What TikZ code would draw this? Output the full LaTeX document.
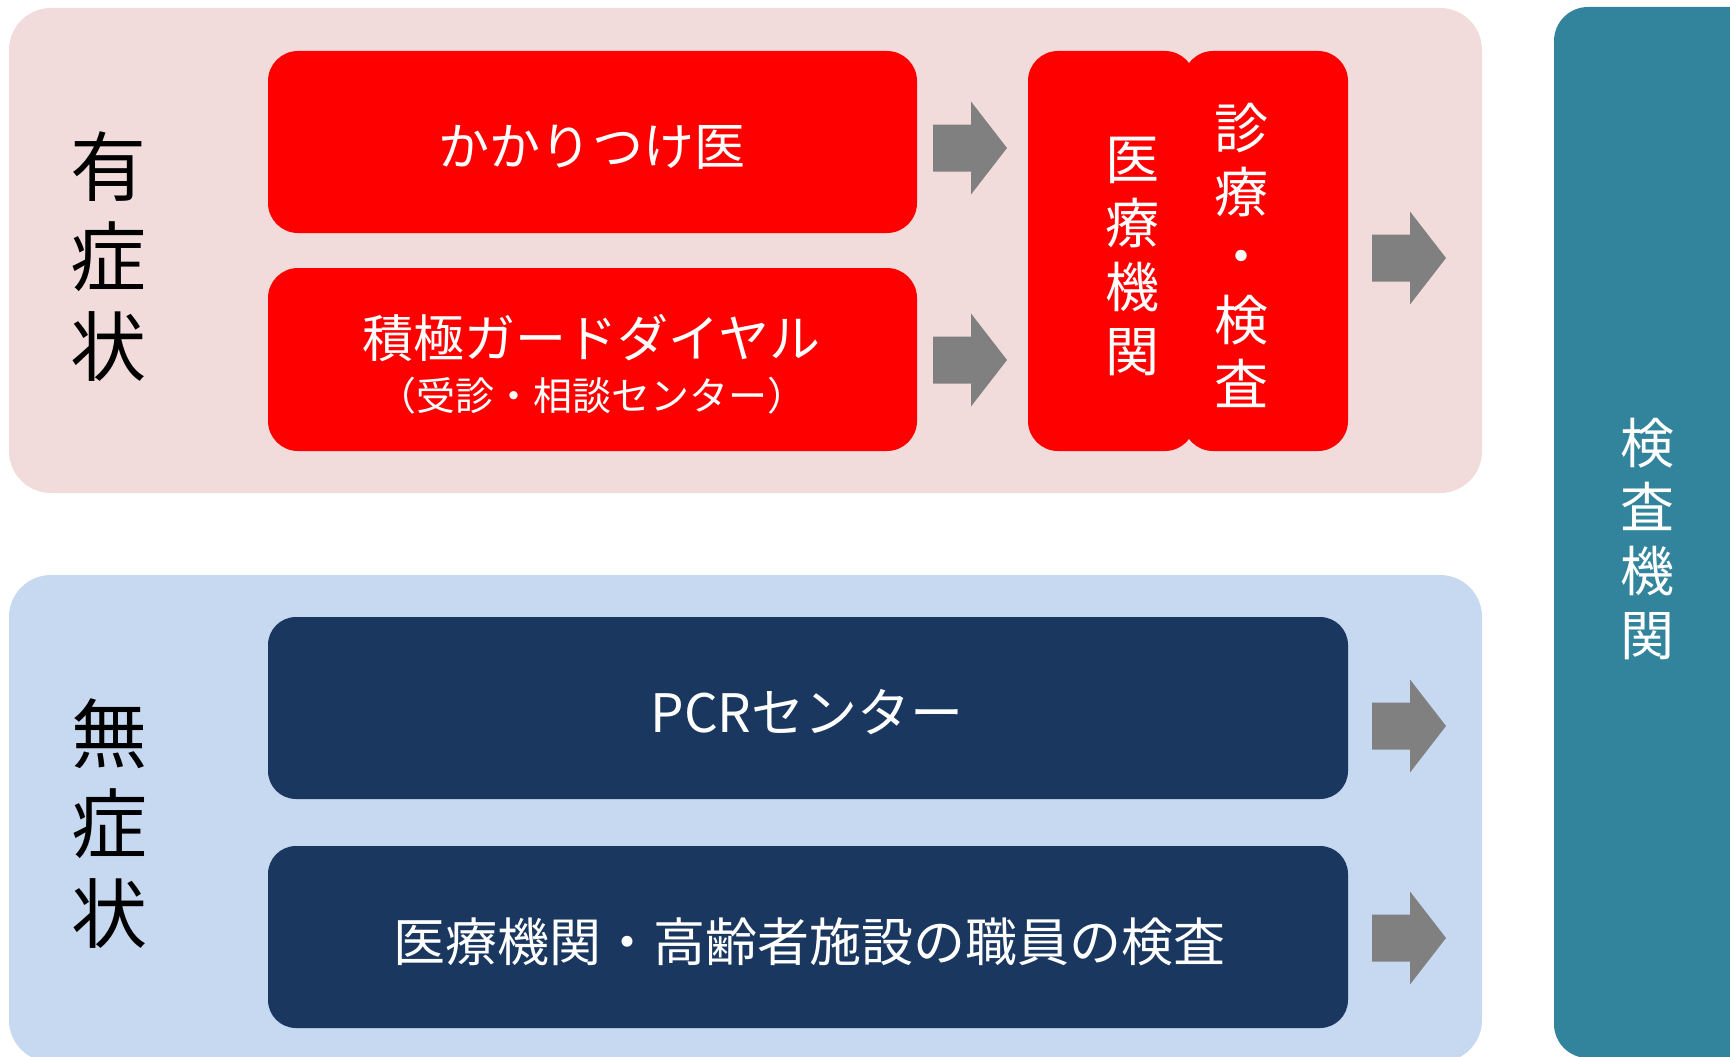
\documentclass[tikz,border=0pt]{standalone}
\usepackage{fontspec}
\setmainfont{Noto Sans CJK JP}
\definecolor{pinkbg}{HTML}{F2DCDB}
\definecolor{bluebg}{HTML}{C6D9F1}
\definecolor{boxred}{HTML}{FF0000}
\definecolor{navybox}{HTML}{1A3760}
\definecolor{tealbox}{HTML}{31849B}
\definecolor{arrowgray}{HTML}{808080}
\begin{document}
\begin{tikzpicture}[x=1pt,y=-1pt,
  panel/.style={rectangle, draw=none, inner sep=0pt, rounded corners=42pt},
  redbox/.style={rectangle, draw=none, inner sep=0pt, rounded corners=30pt, fill=boxred},
  navybox/.style={rectangle, draw=none, inner sep=0pt, rounded corners=28pt, fill=navybox},
  wlabel/.style={text=white, inner sep=0pt, align=center},
  blabel/.style={text=black, inner sep=0pt, align=center},
  blockarr/.pic={\fill[arrowgray] (0,-23.5) -- (38,-23.5) -- (38,-46.5) -- (74,0) -- (38,46.5) -- (38,23.5) -- (0,23.5) -- cycle;}
]
\useasboundingbox (0,0) rectangle (1730,1057);
\clip (0,0) rectangle (1730,1057);
\fill[white] (0,0) rectangle (1730,1057);

% panels
\node[panel, fill=pinkbg, minimum width=1473pt, minimum height=485pt] (sym) at (745.5,250.5) {};
\node[panel, fill=bluebg, minimum width=1473pt, minimum height=487pt] (asym) at (745.5,818.5) {};
\node[panel, fill=tealbox, rounded corners=34pt, minimum width=226pt, minimum height=1051pt] (lab) at (1667,532.5) {};

% side labels
\node[blabel, font=\fontsize{76}{90}\selectfont] (symlabel) at (108,257) {有\\症\\状};
\node[blabel, font=\fontsize{76}{90}\selectfont] (asymlabel) at (109,824) {無\\症\\状};

% red boxes
\node[redbox, minimum width=649pt, minimum height=182pt] (kakari) at (592.5,142) {};
\node[wlabel, font=\fontsize{51}{60}\selectfont] (kakaritext) at (592,147) {かかりつけ医};
\node[redbox, minimum width=649pt, minimum height=183pt] (dial) at (592.5,359.5) {};
\node[wlabel, font=\fontsize{51}{60}\selectfont] (dialtext) at (591.5,338) {積極ガードダイヤル};
\node[wlabel, font=\fontsize{39}{44}\selectfont] (dialsub) at (592,396) {（受診・相談センター）};

% medical institution boxes
\node[redbox, minimum width=165pt, minimum height=400pt] (medright) at (1265.5,251) {};
\node[redbox, minimum width=167pt, minimum height=400pt] (medleft) at (1111.5,251) {};
\node[wlabel, font=\fontsize{54}{64}\selectfont] (medtext) at (1132,256.5) {医\\療\\機\\関};
\node[wlabel, font=\fontsize{54}{64}\selectfont] (exatext) at (1241,255) {診\\療\\・\\検\\査};

% navy boxes
\node[navybox, minimum width=1080pt, minimum height=182pt] (pcr) at (808,708) {};
\node[wlabel, font=\fontsize{53}{60}\selectfont] (pcrtext) at (807,712) {PCRセンター};
\node[navybox, minimum width=1080pt, minimum height=182pt] (staff) at (808,937) {};
\node[wlabel, font=\fontsize{52}{60}\selectfont] (stafftext) at (809,942) {医療機関・高齢者施設の職員の検査};

% lab label
\node[wlabel, font=\fontsize{54}{64}\selectfont] (labtext) at (1647,539) {検\\査\\機\\関};

% block arrows
\pic at (933,148) {blockarr};
\pic at (933,360) {blockarr};
\pic at (1372,258) {blockarr};
\pic at (1372,726) {blockarr};
\pic at (1372,938) {blockarr};
\end{tikzpicture}
\end{document}
